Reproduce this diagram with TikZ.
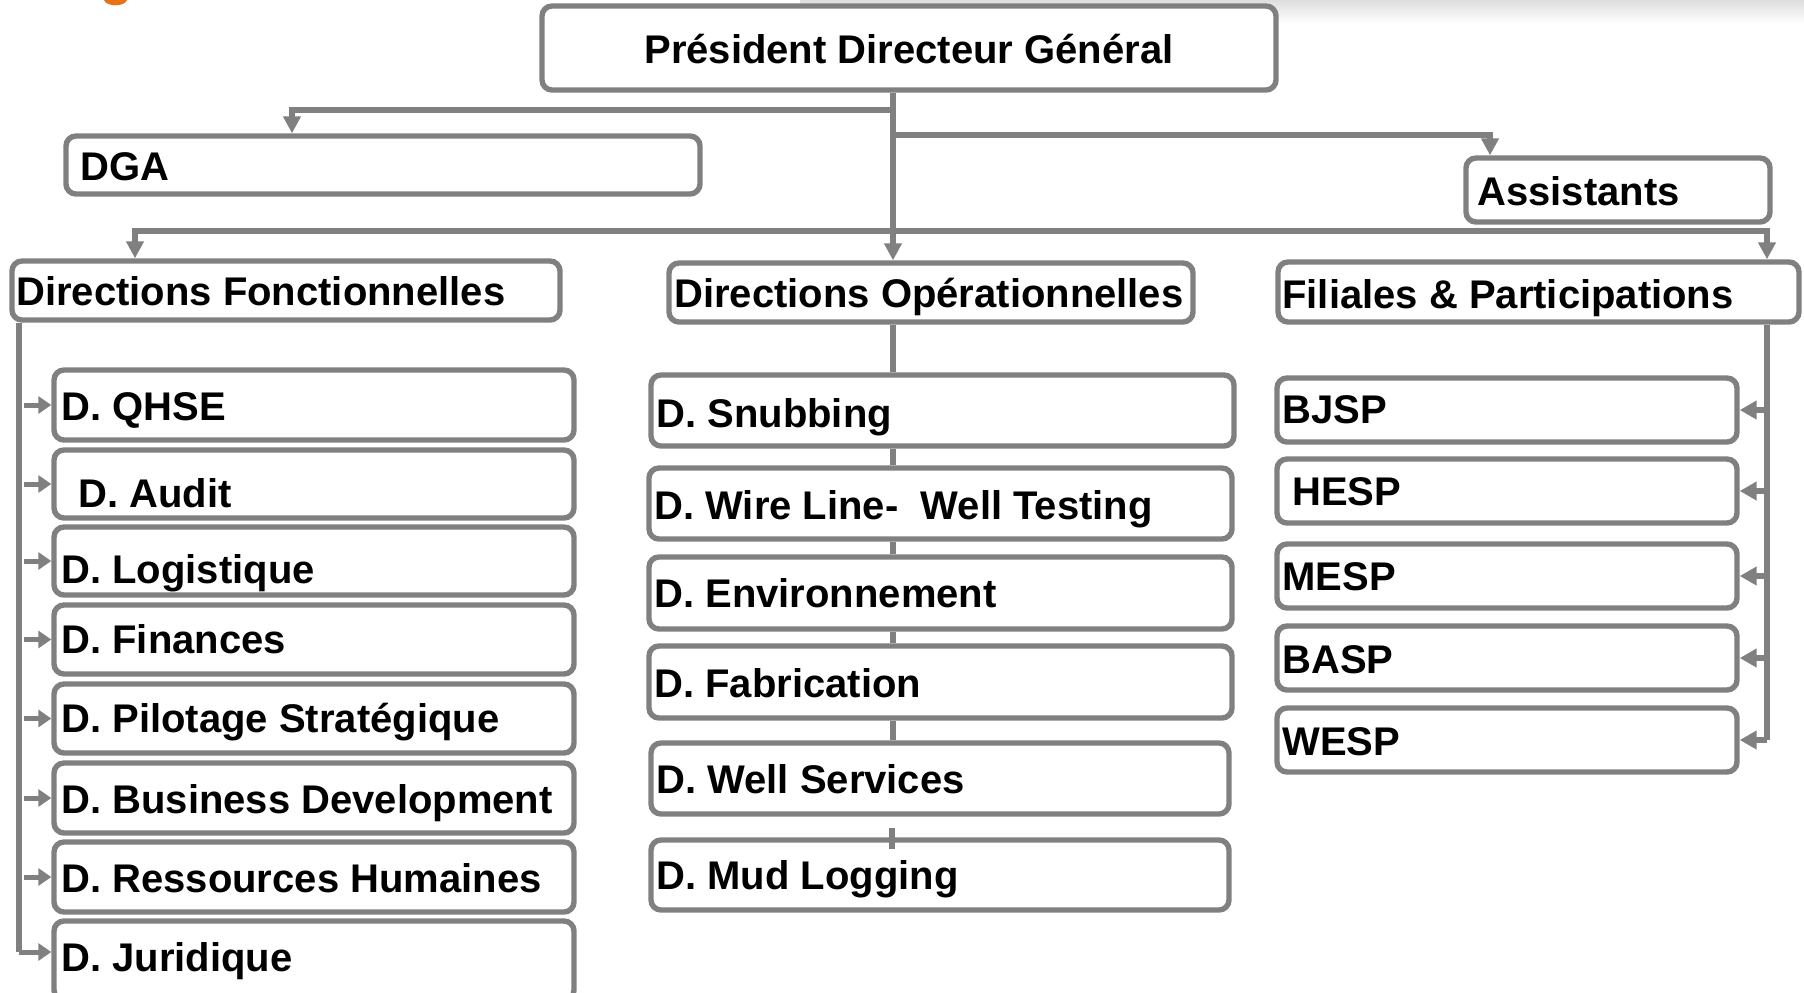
\documentclass[tikz,border=0pt]{standalone}
\usepackage{fontspec}
\setmainfont{Liberation Sans}
\usetikzlibrary{arrows.meta,calc}
\definecolor{ln}{RGB}{128,128,128}
\definecolor{org}{RGB}{232,114,20}
\newcommand\mybox[5]{\node[box, minimum width={(#4-#2)*0.5pt}, minimum height={(#5-#3)*0.5pt}] (#1) at ({(#2+#4)/2},{(#3+#5)/2}) {};}
\begin{document}
\begin{tikzpicture}[x=0.5pt,y=-0.5pt,
  box/.style={draw=ln, line width=2.7pt, rounded corners=5pt, fill=white, inner sep=0pt},
  lbl/.style={font=\bfseries\fontsize{20}{24}\selectfont, inner sep=0pt, anchor=base west},
  conn/.style={draw=ln, line width=3pt},
  arrD/.style={conn, -{Triangle[width=8.5pt,length=8.5pt]}},
  arrL/.style={draw=ln, line width=2.5pt, -{Triangle[width=8.5pt,length=6.5pt]}},
  arrR/.style={conn, -{Triangle[width=9pt,length=8.5pt]}}]
\clip (0,0) rectangle (1804,992);
\fill[white] (0,0) rectangle (1804,992);
% decorations at top
\shade[top color=black!13, bottom color=white] (800,0) rectangle (1804,24);
\fill[org] (104,0) .. controls (106,7) and (125,7) .. (127,0) -- cycle;
% boxes
\mybox{PDG}{542}{6}{1276}{90}
\mybox{DGA}{66}{136}{700}{194}
\mybox{Asst}{1466}{158}{1770}{222}
\mybox{DF}{12}{261}{560}{320}
\mybox{DO}{669}{263}{1193}{322}
\mybox{FP}{1278}{262}{1799}{322}
\mybox{QHSE}{54}{370}{574}{440}
\mybox{Audit}{54}{450}{574}{518}
\mybox{Log}{54}{527}{574}{595}
\mybox{Fin}{54}{605}{574}{674}
\mybox{Pil}{54}{684}{574}{753}
\mybox{Bus}{54}{763}{574}{833}
\mybox{RH}{54}{842}{574}{912}
\mybox{Jur}{54}{921}{574}{1000}
\mybox{Snub}{651}{375}{1234}{446}
\mybox{Wire}{649}{468}{1232}{539}
\mybox{Env}{649}{557}{1232}{629}
\mybox{Fab}{649}{646}{1232}{718}
\mybox{WS}{651}{743}{1229}{814}
\mybox{Mud}{651}{840}{1229}{910}
\mybox{BJSP}{1277}{378}{1737}{442}
\mybox{HESP}{1277}{459}{1737}{523}
\mybox{MESP}{1277}{544}{1737}{608}
\mybox{BASP}{1277}{626}{1737}{690}
\mybox{WESP}{1277}{708}{1737}{772}
% labels
\node[lbl, anchor=base] (tPDG) at (909,63) {Président Directeur Général};
\node[lbl] (tDGA) at (80,180) {DGA};
\node[lbl] (tAsst) at (1477,205) {Assistants};
\node[lbl] (tDF) at (16,305) {Directions Fonctionnelles};
\node[lbl] (tDO) at (674,307) {Directions Opérationnelles};
\node[lbl] (tFP) at (1282,308) {Filiales \& Participations};
\node[lbl] (tQHSE) at (61,420) {D. QHSE};
\node[lbl] (tAudit) at (78,507) {D. Audit};
\node[lbl] (tLog) at (61,583) {D. Logistique};
\node[lbl] (tFin) at (61,653) {D. Finances};
\node[lbl] (tPil) at (61,732) {D. Pilotage Stratégique};
\node[lbl] (tBus) at (61,813) {D. Business Development};
\node[lbl] (tRH) at (61,892) {D. Ressources Humaines};
\node[lbl] (tJur) at (61,971) {D. Juridique};
\node[lbl] (tSnub) at (656,427) {D. Snubbing};
\node[lbl] (tWire) at (654,519) {D. Wire Line-~ Well Testing};
\node[lbl] (tEnv) at (654,607) {D. Environnement};
\node[lbl] (tFab) at (654,697) {D. Fabrication};
\node[lbl] (tWS) at (656,793) {D. Well Services};
\node[lbl] (tMud) at (656,889) {D. Mud Logging};
\node[lbl] (tBJSP) at (1282,423) {BJSP};
\node[lbl] (tHESP) at (1292,505) {HESP};
\node[lbl] (tMESP) at (1282,590) {MESP};
\node[lbl] (tBASP) at (1282,673) {BASP};
\node[lbl] (tWESP) at (1282,755) {WESP};
% coordinates
\coordinate (spine) at (893,0);
\coordinate (lbus) at (19,0);
\coordinate (rbus) at (1767,0);
\coordinate (dgax) at (292,0);
\coordinate (asx) at (1490,0);
\coordinate (dfx) at (135,0);
\coordinate (j1) at (893,110);
\coordinate (j2) at (893,135);
\coordinate (j3) at (893,231);
\coordinate (jy) at (0,952);
% top connectors
\draw[arrD] (PDG.south -| spine) -- (DO.north -| spine);
\draw[arrD] (j1) -| (DGA.north -| dgax);
\draw[arrD] (j2) -| (Asst.north -| asx);
\draw[arrD] (j3) -| (DF.north -| dfx);
\draw[arrD] (j3) -| (FP.north -| rbus);
% centre column
\draw[conn] (DO.south -| spine) -- (Snub.north -| spine);
\draw[conn] (Snub.south -| spine) -- (Wire.north -| spine);
\draw[conn] (Wire.south -| spine) -- (Env.north -| spine);
\draw[conn] (Env.south -| spine) -- (Fab.north -| spine);
\draw[conn] (Fab.south -| spine) -- (WS.north -| spine);
\draw[conn] ($(WS.south -| spine)+(-1,11)$) -- ($(Mud.north -| spine)+(-1,12)$);
% left bus
\draw[conn] (DF.south -| lbus) -- (lbus |- jy);
\draw[arrL] (lbus |- jy) -- (Jur.west |- jy);
\foreach \b in {QHSE,Audit,Log,Fin,Pil,Bus,RH}
  \draw[arrL] ([xshift=2.5pt]lbus |- \b.west) -- (\b.west);
% right bus
\draw[conn] (FP.south -| rbus) -- (rbus |- WESP.east);
\foreach \b in {BJSP,HESP,MESP,BASP,WESP}
  \draw[arrR] (rbus |- \b.east) -- (\b.east);
\end{tikzpicture}
\end{document}
